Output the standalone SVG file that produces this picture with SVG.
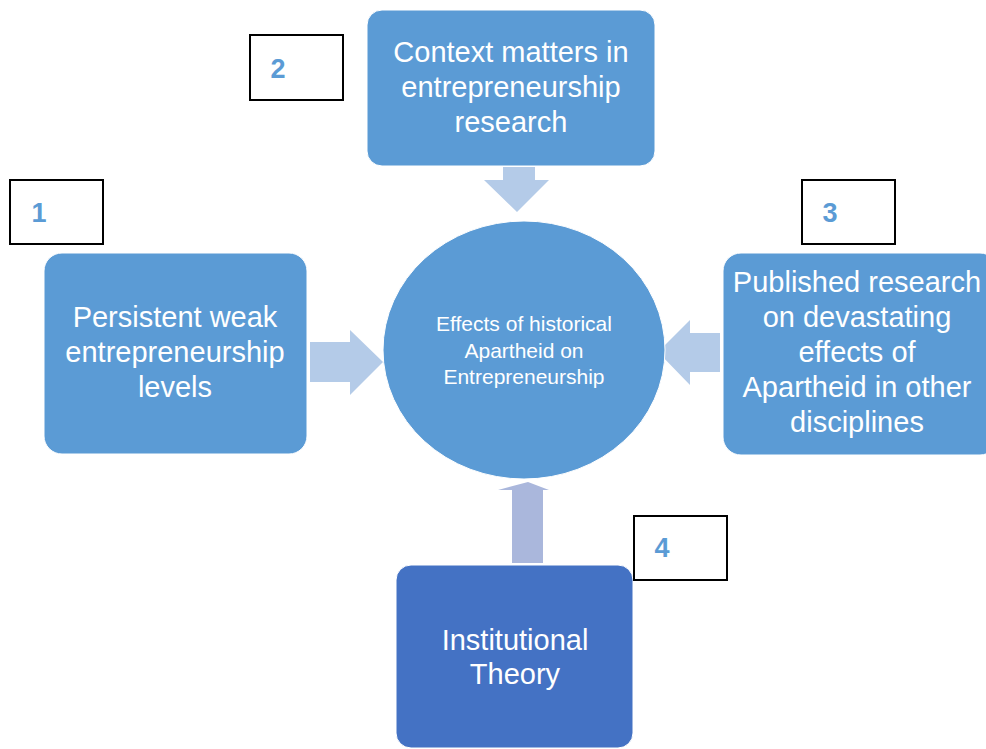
<svg xmlns="http://www.w3.org/2000/svg" width="986" height="749" viewBox="0 0 986 749">
<style>
.box{fill:#5B9BD5;stroke:#ffffff;stroke-width:1}
.box2{fill:#4472C4;stroke:#ffffff;stroke-width:1}
.t{font-family:"Liberation Sans",Arial,sans-serif;fill:#ffffff;text-anchor:middle}
.big{font-size:29px}
.mid{font-size:29px}
.small{font-size:21px}
.lab{fill:#ffffff;stroke:#000000;stroke-width:2}
.num{font-family:"Liberation Sans",Arial,sans-serif;font-weight:bold;font-size:27px;fill:#5B9BD5;text-anchor:middle}
.arr{fill:#B4CBE8}
.arr2{fill:#AAB7DC}
</style>
<rect width="986" height="749" fill="#ffffff"/>
<g id="connectors">
<polygon class="arr" points="503,167 535,167 535,180 549,180 517,212 484,180 503,180"/>
<polygon class="arr" points="310,342 350,342 350,330 383,362 350,395 350,382 310,382"/>
<polygon class="arr" points="720,333 690,333 690,320 658,352 690,385 690,372 720,372"/>
<polygon class="arr2" points="512,563 543,563 543,490 549,490 528,482 498,490 512,490"/>
</g>
<g id="center">
<ellipse class="box" cx="524" cy="350" rx="141" ry="129"/>
<text class="t small" x="524" y="331">Effects of historical</text>
<text class="t small" x="524" y="358">Apartheid on</text>
<text class="t small" x="524" y="384">Entrepreneurship</text>
</g>
<g id="node-context">
<rect class="box" x="367" y="10" width="288" height="156" rx="15"/>
<text class="t big" x="511" y="62">Context matters in</text>
<text class="t big" x="511" y="97">entrepreneurship</text>
<text class="t big" x="511" y="132">research</text>
</g>
<g id="node-persistent">
<rect class="box" x="44" y="253" width="263" height="201" rx="18"/>
<text class="t big" x="175" y="327">Persistent weak</text>
<text class="t big" x="175" y="362">entrepreneurship</text>
<text class="t big" x="175" y="397">levels</text>
</g>
<g id="node-published">
<rect class="box" x="723" y="253" width="275" height="202" rx="18"/>
<text class="t big" x="857" y="292">Published research</text>
<text class="t big" x="857" y="327">on devastating</text>
<text class="t big" x="857" y="362">effects of</text>
<text class="t big" x="857" y="397">Apartheid in other</text>
<text class="t big" x="857" y="432">disciplines</text>
</g>
<g id="node-institutional">
<rect class="box2" x="396" y="565" width="237" height="183" rx="15"/>
<text class="t mid" x="515" y="650">Institutional</text>
<text class="t mid" x="515" y="684">Theory</text>
</g>
<g id="label-1">
<rect class="lab" x="10" y="180" width="93" height="64"/>
<text class="num" x="39" y="222">1</text>
</g>
<g id="label-2">
<rect class="lab" x="250" y="35" width="93" height="65"/>
<text class="num" x="278" y="78">2</text>
</g>
<g id="label-3">
<rect class="lab" x="802" y="180" width="93" height="64"/>
<text class="num" x="830" y="222">3</text>
</g>
<g id="label-4">
<rect class="lab" x="634" y="516" width="93" height="64"/>
<text class="num" x="662" y="557">4</text>
</g>
</svg>
